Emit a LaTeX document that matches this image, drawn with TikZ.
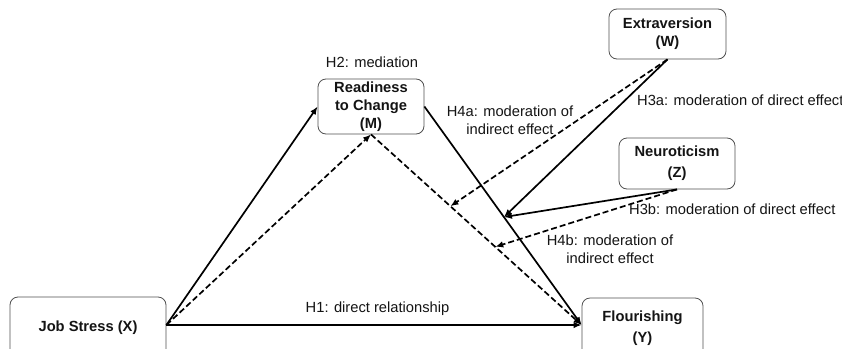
\documentclass[tikz,border=0pt]{standalone}
\usepackage{fontspec}
\setmainfont{Liberation Sans}
\usetikzlibrary{arrows.meta}
\definecolor{boxgray}{RGB}{80,80,80}
\definecolor{txt}{RGB}{20,20,20}
\begin{document}
\begin{tikzpicture}[x=1pt,y=-1pt,
  box/.style={draw=boxgray, line width=0.8pt, rounded corners=8pt, inner sep=0pt,
    align=center, text=txt, font=\fontsize{14.7}{18}\selectfont\bfseries},
  lbl/.style={inner sep=0pt, align=center, text=txt, font=\fontsize{14.7}{18}\selectfont},
  arr/.style={line width=1.7pt, -{Latex[length=8pt,width=6.5pt]}},
  darr/.style={arr, dash pattern=on 6pt off 3pt}]
\useasboundingbox (0,0) rectangle (842,348);
\clip (0,0) rectangle (842,348);
\fill[white] (0,0) rectangle (842,348);
% boxes
\node[box, minimum width=156pt, minimum height=62pt] (X) at (88,328) {Job Stress (X)};
\node[box, minimum width=106pt, minimum height=55pt] (M) at (371,106.5) {Readiness\\to Change\\(M)};
\node[box, minimum width=121pt, minimum height=60pt, font=\fontsize{14.7}{21}\selectfont\bfseries] (Y) at (642.5,328) {Flourishing\\(Y)};
\node[box, minimum width=117pt, minimum height=50pt] (W) at (667.5,34) {Extraversion\\(W)};
\node[box, minimum width=116pt, minimum height=51pt, font=\fontsize{14.7}{21}\selectfont\bfseries] (Z) at (677,163.5) {Neuroticism\\(Z)};
% main paths
\draw[arr] ([yshift=3pt]X.east) -- (M.west);
\draw[darr] ([yshift=3pt]X.east) -- (M.south);
\draw[arr] (M.east) -- ([yshift=3pt]Y.west);
\draw[darr] (M.south) -- ([yshift=3pt]Y.west);
\draw[arr] ([yshift=3pt]X.east) -- ([yshift=3pt]Y.west);
% points on paths
\path (M.east) -- ([yshift=3pt]Y.west) coordinate[pos=0.506] (s1);
\path (M.south) -- ([yshift=3pt]Y.west) coordinate[pos=0.377] (d1) coordinate[pos=0.59] (d2);
% moderators
\draw[arr] (W.south) -- (s1);
\draw[darr] (W.south) -- (d1);
\draw[arr] (Z.south) -- (s1);
\draw[darr] (Z.south) -- (d2);
% labels
\node[lbl] (h2) at (372,62) {H2: mediation};
\node[lbl] (h1) at (377.5,309) {H1: direct relationship};
\node[lbl] (h4a) at (510,120) {H4a: moderation of\\indirect effect};
\node[lbl, anchor=west] (h3a) at (637,100) {H3a: moderation of direct effect};
\node[lbl, anchor=west] (h3b) at (629,209) {H3b: moderation of direct effect};
\node[lbl] (h4b) at (610,249) {H4b: moderation of\\indirect effect};
\end{tikzpicture}
\end{document}
